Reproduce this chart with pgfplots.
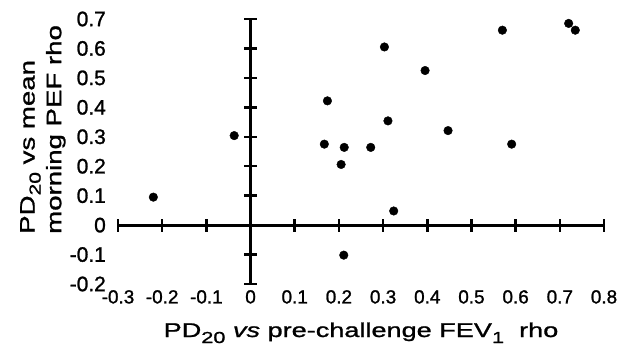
\documentclass[border=0pt]{standalone}
\usepackage{fontspec}
\setmainfont{Liberation Sans}[FakeBold=1.2]
\newfontfamily\xlabfont{Liberation Sans}[FakeStretch=1.36,FakeBold=1.2]
\newfontfamily\ylabfont{Liberation Sans}[FakeStretch=1.32,FakeBold=1.2]
\usepackage{pgfplots}
\pgfplotsset{compat=1.18}
\usepackage{pgfplotstable}

\pgfplotstableread{
x y
-0.22 0.095
-0.037 0.304
0.167 0.275
0.174 0.422
0.212 0.264
0.205 0.206
0.211 -0.102
0.272 0.264
0.303 0.605
0.311 0.354
0.324 0.048
0.395 0.525
0.447 0.321
0.570 0.662
0.591 0.275
0.720 0.685
0.735 0.662
}\pts

\begin{document}
\begin{tikzpicture}
\begin{axis}[name=main,
  scale only axis, width=486bp, height=265bp,
  xmin=-0.3, xmax=0.8, ymin=-0.2, ymax=0.7,
  axis lines=middle,
  axis line style={-, line width=2.8bp, black},
  xtick={-0.3,-0.2,-0.1,0,0.1,0.2,0.3,0.4,0.5,0.6,0.7,0.8},
  ytick={-0.2,-0.1,0,0.1,0.2,0.3,0.4,0.5,0.6,0.7},
  xticklabels={}, yticklabels={},
  tick align=center, major tick length=13bp,
  tick style={line width=2.5bp, black},
  clip=false]
\addplot[only marks, mark=*, mark size=4.3bp, black] table[x=x,y=y] {\pts};
\end{axis}
\begin{axis}[
  scale only axis, width=486bp, height=265bp,
  xmin=-0.3, xmax=0.8, ymin=-0.2, ymax=0.7,
  axis x line*=bottom, axis y line*=left,
  axis line style={draw=none},
  major tick length=0pt,
  xtick={-0.3,-0.2,-0.1,0,0.1,0.2,0.3,0.4,0.5,0.6,0.7,0.8},
  xticklabels={-0.3,-0.2,-0.1,0,0.1,0.2,0.3,0.4,0.5,0.6,0.7,0.8},
  ytick={-0.2,-0.1,0,0.1,0.2,0.3,0.4,0.5,0.6,0.7},
  yticklabels={-0.2,-0.1,0,0.1,0.2,0.3,0.4,0.5,0.6,0.7},
  xticklabel style={anchor=north, inner sep=0pt, yshift=-6bp, font=\fontsize{19}{19}\selectfont},
  yticklabel style={anchor=east, inner sep=0pt, xshift=-12bp, font=\fontsize{21}{21}\selectfont},
  every axis x label/.style={at={([yshift=-53bp]rel axis cs:0.5,0)}, anchor=base, inner sep=0pt,
    font=\xlabfont\fontsize{20}{20}\selectfont},
  every axis y label/.style={at={([xshift=-98bp,yshift=50bp]rel axis cs:0,0)}, rotate=90,
    anchor=north west, inner sep=0pt, align=left,
    font=\ylabfont\fontsize{21}{26.7}\selectfont},
  xlabel={PD\raisebox{-6bp}{\fontsize{16}{16}\selectfont 20} \textit{vs} pre-challenge FEV\raisebox{-6bp}{\fontsize{16}{16}\selectfont 1}\ \ rho},
  ylabel={PD\raisebox{-6bp}{\fontsize{16}{16}\selectfont 20} vs mean\\morning PEF rho},
]
\addplot[draw=none, forget plot] coordinates {(0,0)};
\end{axis}
\pgfresetboundingbox
\path (main.south west) ++(-118bp,-76bp) rectangle ++(621bp,360bp);
\end{tikzpicture}
\end{document}
